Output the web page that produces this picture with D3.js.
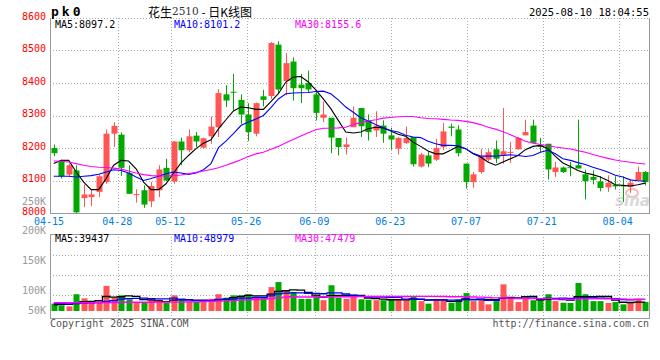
<!DOCTYPE html>
<html><head><meta charset="utf-8">
<script src="https://cdn.jsdelivr.net/npm/d3@7/dist/d3.min.js"></script>
<style>
body{margin:0;background:#fff}
svg{display:block}
text{font-family:"DejaVu Sans Mono",monospace;font-size:10px}
</style>
</head><body><svg id="c" width="660" height="360"></svg>
<script>
const dates = ["04-15","04-16","04-17","04-18","04-21","04-22","04-23","04-24","04-25","04-28","04-29","04-30","05-06","05-07","05-08","05-09","05-12","05-13","05-14","05-15","05-16","05-19","05-20","05-21","05-22","05-23","05-26","05-27","05-28","05-29","05-30","06-03","06-04","06-05","06-06","06-09","06-10","06-11","06-12","06-13","06-16","06-17","06-18","06-19","06-20","06-23","06-24","06-25","06-26","06-27","06-30","07-01","07-02","07-03","07-04","07-07","07-08","07-09","07-10","07-11","07-14","07-15","07-16","07-17","07-18","07-21","07-22","07-23","07-24","07-25","07-28","07-29","07-30","07-31","08-01","08-04","08-05","08-06","08-07","08-08"];
const open  = [8200,8159,8118,8131,8046,8049,8065,8095,8244,8241,8123,8055,8070,8036,8070,8139,8097,8220,8193,8238,8201,8236,8264,8365,8373,8348,8303,8244,8359,8360,8518,8406,8466,8395,8400,8365,8293,8293,8231,8203,8264,8323,8285,8254,8269,8239,8198,8215,8234,8143,8177,8164,8203,8266,8257,8152,8095,8126,8164,8196,8177,8186,8196,8239,8269,8208,8213,8126,8140,8141,8147,8119,8111,8097,8079,8087,8085,8080,8100,8126];
const high  = [8211,8164,8152,8147,8088,8072,8118,8257,8279,8248,8147,8073,8085,8095,8147,8167,8221,8232,8257,8249,8232,8297,8381,8393,8428,8365,8338,8340,8379,8526,8528,8492,8479,8428,8438,8372,8343,8293,8231,8232,8328,8323,8303,8313,8285,8262,8234,8266,8234,8185,8190,8228,8277,8275,8270,8152,8126,8198,8196,8223,8323,8218,8234,8287,8287,8231,8213,8157,8143,8157,8287,8133,8131,8114,8116,8113,8113,8103,8143,8129];
const low   = [8175,8106,8111,8000,8018,8021,8049,8090,8203,8114,8059,8032,8016,8018,8049,8098,8090,8147,8187,8203,8198,8213,8234,8326,8316,8273,8221,8236,8328,8351,8367,8362,8346,8338,8372,8285,8280,8184,8177,8180,8264,8234,8223,8234,8216,8195,8180,8213,8143,8140,8141,8160,8193,8236,8174,8075,8078,8121,8159,8154,8152,8154,8195,8239,8216,8187,8103,8111,8123,8113,8137,8042,8088,8067,8065,8072,8034,8062,8100,8085];
const close = [8184,8113,8147,8002,8057,8057,8113,8244,8268,8139,8059,8058,8026,8083,8134,8100,8220,8193,8236,8220,8230,8266,8369,8346,8370,8303,8249,8338,8348,8523,8380,8461,8384,8384,8380,8308,8303,8232,8203,8211,8293,8267,8249,8269,8244,8226,8231,8231,8150,8180,8152,8200,8251,8262,8184,8095,8119,8174,8187,8167,8190,8188,8231,8249,8216,8203,8134,8140,8126,8139,8137,8098,8102,8077,8093,8082,8083,8093,8126,8095];
const ma5  = [8152,8162,8162,8126,8095,8072,8072,8106,8147,8162,8160,8136,8095,8072,8072,8090,8123,8154,8177,8198,8215,8225,8259,8287,8314,8326,8324,8319,8319,8343,8367,8403,8418,8420,8403,8379,8351,8321,8285,8249,8246,8249,8259,8264,8262,8252,8242,8236,8218,8205,8191,8182,8182,8193,8205,8198,8182,8172,8157,8147,8157,8167,8177,8195,8205,8208,8198,8174,8154,8143,8131,8123,8118,8111,8100,8087,8085,8083,8087,8092];
const ma10 = [8113,8113,8113,8111,8113,8115,8119,8126,8133,8131,8123,8111,8100,8106,8113,8121,8126,8123,8119,8123,8133,8152,8201,8221,8244,8269,8280,8289,8300,8324,8351,8367,8369,8370,8371,8374,8375,8367,8348,8326,8310,8293,8283,8272,8262,8254,8249,8239,8234,8232,8221,8213,8208,8208,8207,8198,8184,8175,8175,8175,8177,8179,8177,8174,8177,8187,8193,8182,8167,8162,8155,8149,8141,8134,8126,8116,8111,8102,8099,8098];
const ma30 = [8160,8159,8157,8152,8147,8143,8141,8140,8138,8135,8129,8123,8118,8115,8114,8114,8115,8117,8121,8125,8129,8134,8139,8147,8155,8164,8174,8182,8187,8196,8205,8216,8226,8237,8247,8256,8261,8261,8262,8264,8272,8278,8283,8287,8292,8294,8296,8297,8297,8293,8291,8290,8288,8286,8285,8282,8278,8272,8264,8258,8250,8241,8231,8221,8215,8211,8207,8203,8200,8197,8192,8187,8180,8174,8168,8163,8159,8156,8153,8151];
const volume = [32,25,20,73,55,35,42,109,58,68,51,36,36,49,49,35,68,49,42,39,39,53,73,58,68,68,73,64,58,104,126,90,83,53,53,68,47,112,58,53,68,51,49,47,47,53,47,47,65,43,32,51,47,36,51,78,43,51,29,43,116,58,39,53,47,49,73,43,36,35,122,73,43,43,35,39,29,37,53,39];
const vma5  = [27,29,29,32,41,42,45,63,60,62,66,64,50,48,44,41,47,50,49,47,47,44,49,52,58,64,68,66,66,73,85,88,92,91,81,69,61,67,68,68,68,68,56,54,52,49,49,48,52,51,47,48,48,42,43,53,51,52,50,49,56,59,57,62,63,49,52,53,50,47,62,62,62,63,63,47,38,37,39,39];
const vma10 = [32,32,31,33,34,35,37,42,45,52,54,55,56,54,53,53,56,50,48,45,44,46,50,51,52,56,56,58,59,66,75,78,79,79,77,77,75,79,79,74,69,65,61,61,60,59,59,52,53,52,48,48,48,47,47,50,49,50,46,46,55,55,54,56,56,53,56,55,56,55,56,57,57,56,55,54,50,49,51,51];
const vma30 = [36,36,36,36,36,36,37,37,37,38,38,38,38,38,39,39,39,39,40,40,41,42,43,44,45,47,48,50,52,54,57,60,62,61,61,62,62,62,62,62,62,63,63,63,63,64,63,63,64,64,64,64,63,62,62,62,61,60,59,57,57,56,55,55,54,54,55,52,52,51,53,53,53,53,53,52,52,51,51,51];
const tickDates = ["04-15","04-28","05-12","05-26","06-09","06-23","07-07","07-21","08-04"];
const priceTicks = [8000,8100,8200,8300,8400,8500,8600];
const volTicks = [250,200,150,100,50];
const maLegend = [["MA5:8097.2","#000"],["MA10:8101.2","#0000ff"],["MA30:8155.6","#ff00ff"]];
const volLegend = [["MA5:39437","#000"],["MA10:48979","#0000ff"],["MA30:47479","#ff00ff"]];

const svg = d3.select("#c");
const L = 50, R = 649, T = 18, B = 213, VT = 234, VB = 318, V0 = 311;
const RED = "#ff5555", GREEN = "#00a800", GRID = "#aaa";

const xb = d3.scaleBand().domain(dates).range([L, R]);
const xp = d3.scalePoint().domain(dates).range([L, R]);
const cx = d => xb(d) + xb.bandwidth() / 2;
const y = d3.scaleLinear().domain([8000, 8600]).range([B, T]);
const yv = d3.scaleLinear().domain([0, 335]).range([V0, VT]);
const yvLab = d3.scaleLinear().domain([50, 100, 250]).range([310, 290, 201]);

const data = dates.map((d, i) => ({d, o: open[i], h: high[i], l: low[i], c: close[i], v: volume[i]}));
const col = r => r.c >= r.o ? RED : GREEN;

svg.append("g").selectAll("line").data(priceTicks.filter(p => p > 8000 && p < 8600)).join("line")
  .attr("x1", L).attr("x2", R).attr("y1", p => Math.round(y(p)) + 0.5).attr("y2", p => Math.round(y(p)) + 0.5)
  .attr("stroke", GRID).attr("stroke-dasharray", "1,2");
svg.append("line").attr("x1", L).attr("x2", R).attr("y1", T + 0.5).attr("y2", T + 0.5).attr("stroke", GRID).attr("stroke-dasharray", "1,2");
const vgrid = tickDates.slice(1);
svg.append("g").selectAll("line").data(vgrid).join("line")
  .attr("x1", d => Math.round(xp(d)) + 0.5).attr("x2", d => Math.round(xp(d)) + 0.5)
  .attr("y1", T).attr("y2", B).attr("stroke", GRID).attr("stroke-dasharray", "1,2");
svg.append("g").selectAll("line").data(vgrid).join("line")
  .attr("x1", d => Math.round(xp(d)) + 0.5).attr("x2", d => Math.round(xp(d)) + 0.5)
  .attr("y1", VT).attr("y2", VB).attr("stroke", GRID).attr("stroke-dasharray", "1,2");
svg.append("g").selectAll("line").data([255, 275, 295]).join("line")
  .attr("x1", L).attr("x2", R).attr("y1", d => d + 0.5).attr("y2", d => d + 0.5)
  .attr("stroke", GRID).attr("stroke-dasharray", "1,2");

const frame = (x1, y1, x2, y2) => svg.append("line").attr("x1", x1).attr("y1", y1).attr("x2", x2).attr("y2", y2).attr("stroke", "#999").attr("stroke-width", 1);
frame(L + 0.5, T, L + 0.5, B + 1);
frame(R + 0.5, T, R + 0.5, B + 1);
frame(L, B + 0.5, R + 1, B + 0.5);
frame(L, VT + 0.5, R + 1, VT + 0.5);
frame(L + 0.5, VT, L + 0.5, VB + 1);
frame(R + 0.5, VT, R + 0.5, VB + 1);
frame(L, VB + 0.5, R + 1, VB + 0.5);

const wm = svg.append("g").attr("opacity", 0.55);
wm.append("ellipse").attr("cx", 632).attr("cy", 193).attr("rx", 6).attr("ry", 4).attr("fill", "none").attr("stroke", "#f08080").attr("stroke-width", 2);
wm.append("text").attr("x", 650).attr("y", 206).attr("text-anchor", "end")
  .style("font-family", "DejaVu Sans").style("font-size", "15px").style("font-style", "italic").style("font-weight", "bold")
  .attr("fill", "#bbb").text("sina");

const cg = svg.append("g");
cg.selectAll("line").data(data).join("line")
  .attr("x1", r => Math.round(cx(r.d)) + 0.5).attr("x2", r => Math.round(cx(r.d)) + 0.5)
  .attr("y1", r => y(r.h)).attr("y2", r => y(r.l)).attr("stroke", col);
cg.selectAll("rect").data(data).join("rect")
  .attr("x", r => Math.round(cx(r.d)) - 2.5).attr("width", 6)
  .attr("y", r => y(Math.max(r.o, r.c)))
  .attr("height", r => Math.max(1, Math.abs(y(r.o) - y(r.c))))
  .attr("fill", col);

const lineP = d3.line().x((v, i) => cx(dates[i])).y(v => y(v));
[[ma5, "#000"], [ma10, "#0000ff"], [ma30, "#ff00ff"]].forEach(([arr, c]) => {
  svg.append("path").attr("d", lineP(arr)).attr("fill", "none").attr("stroke", c).attr("stroke-width", 1.1);
});

svg.append("g").selectAll("rect").data(data).join("rect")
  .attr("x", r => Math.round(cx(r.d)) - 2.5).attr("width", 6)
  .attr("y", r => yv(r.v)).attr("height", r => V0 - yv(r.v)).attr("fill", col);
const lineV = d3.line().x((v, i) => cx(dates[i])).y(v => yv(v)).curve(d3.curveStep);
[[vma5, "#000"], [vma10, "#0000ff"], [vma30, "#ff00ff"]].forEach(([arr, c]) => {
  svg.append("path").attr("d", lineV(arr)).attr("fill", "none").attr("stroke", c).attr("stroke-width", 1.3);
});

svg.append("g").selectAll("text").data(priceTicks).join("text")
  .attr("x", 46).attr("y", p => y(p) - 2).attr("text-anchor", "end").attr("dominant-baseline", "central")
  .attr("fill", "#ff0000").text(p => p);
svg.append("g").selectAll("text").data(volTicks).join("text")
  .attr("x", 46).attr("y", v => yvLab(v)).attr("text-anchor", "end").attr("dominant-baseline", "central")
  .attr("fill", "#999").text(v => v + "K");
svg.append("g").selectAll("text").data(tickDates).join("text")
  .attr("x", d => xp(d) - 1).attr("y", 221).attr("text-anchor", "middle").attr("dominant-baseline", "central")
  .attr("fill", "#0080dd").text(d => d);

const lx = [55, 174, 295];
svg.append("g").selectAll("text").data(maLegend).join("text")
  .attr("x", (d, i) => lx[i]).attr("y", 24.5).attr("dominant-baseline", "central").attr("fill", d => d[1]).text(d => d[0]);
svg.append("g").selectAll("text").data(volLegend).join("text")
  .attr("x", (d, i) => lx[i]).attr("y", 238.5).attr("dominant-baseline", "central").attr("fill", d => d[1]).text(d => d[0]);

svg.append("text").attr("x", 51).attr("y", 11.5).attr("dominant-baseline", "central")
  .style("font-size", "13px").style("font-weight", "bold").style("letter-spacing", "3px").attr("fill", "#000").text("pk0");
const title = svg.append("text").attr("x", 200).attr("y", 11).attr("text-anchor", "middle").attr("dominant-baseline", "central")
  .style("font-family", "'Noto Sans CJK SC', sans-serif").style("font-size", "12px").attr("fill", "#000");
title.append("tspan").text("花生");
title.append("tspan").style("font-family", "'DejaVu Serif', serif").style("font-size", "10.5px").attr("fill", "#333").text("2510");
title.append("tspan").text(" - 日K线图");
svg.append("text").attr("x", 649).attr("y", 12).attr("text-anchor", "end").attr("dominant-baseline", "central")
  .style("font-size", "10.5px").attr("fill", "#000").text("2025-08-10 18:04:55");

svg.append("text").attr("x", 50).attr("y", 323.5).attr("dominant-baseline", "central").attr("fill", "#555").text("Copyright 2025 SINA.COM");
svg.append("text").attr("x", 649).attr("y", 323.5).attr("text-anchor", "end").attr("dominant-baseline", "central").attr("fill", "#555").text("http://finance.sina.com.cn");
</script>
</body></html>
